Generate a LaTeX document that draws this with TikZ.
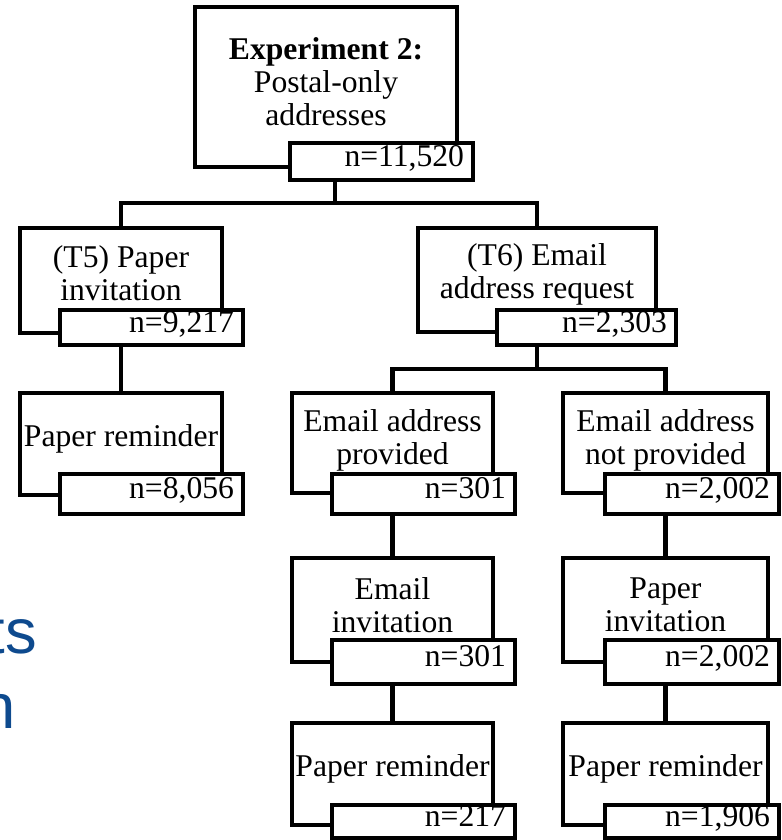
\documentclass[tikz,border=0pt]{standalone}
\usepackage{fontspec}
\setmainfont{Liberation Serif}
\newfontfamily\slidefont{Liberation Sans}
\definecolor{slideblue}{RGB}{14,74,142}
\tikzset{
	stage/.style 2 args={draw, line width=3.3pt, fill=white, inner sep=0pt,
		minimum width=#1*0.025cm, minimum height=#2*0.025cm},
	stagetext/.style={align=center, inner sep=0pt, yshift=0.13cm, font=\fontsize{22.5}{23.5}\selectfont},
	count/.style 2 args={draw, line width=3.3pt, fill=white, align=right, inner xsep=0.225cm, inner ysep=0pt,
		text width=#1*0.025cm-0.45cm, minimum height=#2*0.025cm, text height=0.66em, text depth=0pt,
		font=\fontsize{22.5}{23.5}\selectfont},
	link/.style={line width=3pt},
	slidetext/.style={slideblue, inner sep=0pt, anchor=base east, font=\slidefont\fontsize{45}{50}\selectfont}
}

\begin{document}
\begin{tikzpicture}[x=0.025cm, y=-0.025cm]
			%%%%% START %%%%%
			\useasboundingbox (0,0) rectangle (781,840);
			\clip (0,0) rectangle (781,840);
			
			% slide title, cut off at the left
			\node[slidetext] (titleA) at (37,653) {ts};
			\node[slidetext] (titleB) at (15.5,728) {n};
			
			% stages
			\node[stage={262}{160}, label={[stagetext]center:{\textbf{Experiment 2:}\\Postal-only\\addresses}}] (exp) at (326,87) {};
			\node[stage={202}{105}, label={[stagetext, yshift=0.05cm]center:{(T5) Paper\\invitation}}] (tfive) at (121,280.5) {};
			\node[stage={238}{104}, label={[stagetext]center:{(T6) Email\\address request}}] (tsix) at (537,280) {};
			\node[stage={202}{102}, label={[stagetext]center:{Paper reminder}}] (remA) at (121,444) {};
			\node[stage={201}{100}, label={[stagetext, yshift=-0.06cm]center:{Email address\\provided}}] (given) at (392.5,443) {};
			\node[stage={205}{100}, label={[stagetext, yshift=-0.06cm]center:{Email address\\not provided}}] (notgiven) at (665.5,443) {};
			\node[stage={201}{104}, label={[stagetext]center:{Email\\invitation}}] (emailinv) at (392.5,610) {};
			\node[stage={205}{104}, label={[stagetext]center:{Paper\\invitation}}] (paperinv) at (665.5,610) {};
			\node[stage={201}{102}, label={[stagetext]center:{Paper reminder}}] (remB) at (392.5,774) {};
			\node[stage={205}{102}, label={[stagetext]center:{Paper reminder}}] (remC) at (665.5,774) {};
			
			% counts
			\node[count={183}{37}] (expn) at (381.5,161.5) {n=11,520};
			\node[count={183}{35}] (tfiven) at (151.5,327.5) {n=9,217};
			\node[count={179}{35}] (tsixn) at (586.5,327.5) {n=2,303};
			\node[count={183}{40}] (remAn) at (151.5,494) {n=8,056};
			\node[count={183}{40}] (givenn) at (423.5,494) {n=301};
			\node[count={174}{40}] (notgivenn) at (692,494) {n=2,002};
			\node[count={183}{44}] (emailinvn) at (423.5,662) {n=301};
			\node[count={174}{44}] (paperinvn) at (692,662) {n=2,002};
			\node[count={183}{33}] (remBn) at (423.5,821.5) {n=217};
			\node[count={174}{33}] (remCn) at (692,821.5) {n=1,906};
			
			% connectors
			\coordinate (topsplit) at (335,203);
			\coordinate (emsplit) at (537,369);
			\draw[link] (topsplit |- expn.south) -- (topsplit);
			\draw[link] (tfive.north) |- (topsplit) -| (tsix.north);
			\draw[link] (tfive |- tfiven.south) -- (remA.north);
			\draw[link] (tsix |- tsixn.south) -- (emsplit);
			\draw[link] (given.north) |- (emsplit) -| (notgiven.north);
			\draw[link] (given |- givenn.south) -- (emailinv.north);
			\draw[link] (notgiven |- notgivenn.south) -- (paperinv.north);
			\draw[link] (emailinv |- emailinvn.south) -- (remB.north);
			\draw[link] (paperinv |- paperinvn.south) -- (remC.north);
			
			%%%%% END %%%%%
\end{tikzpicture}
\end{document}
